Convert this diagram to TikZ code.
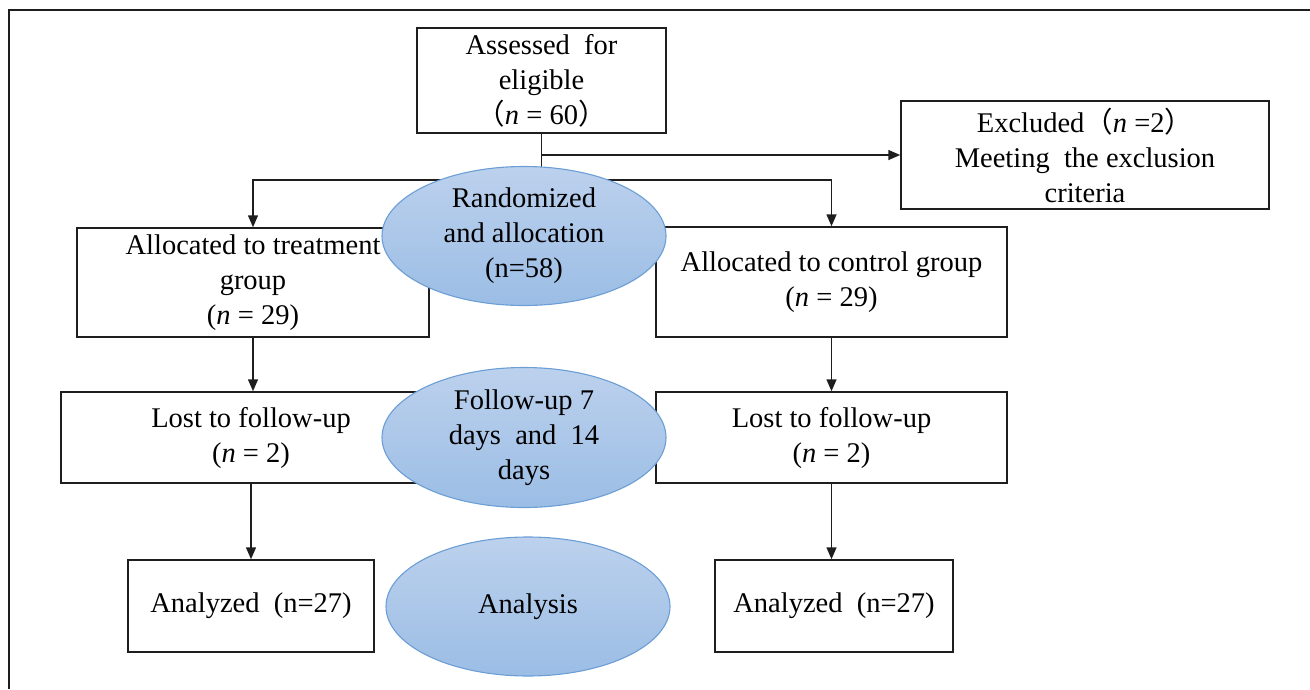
\documentclass[tikz,border=0pt]{standalone}
\usepackage{fontspec}
\setmainfont{Liberation Serif}
\newfontfamily\cjk{Noto Sans CJK SC}
\usetikzlibrary{shapes.geometric,arrows.meta}
\definecolor{ellfillA}{RGB}{188,209,237}
\definecolor{ellfillB}{RGB}{155,189,229}
\definecolor{elldraw}{RGB}{108,158,214}
\definecolor{framecol}{RGB}{30,30,30}
\begin{document}
\begin{tikzpicture}[x=1pt,y=-1pt,
  txt/.style={font=\fontsize{28.5}{35}\selectfont, align=center, inner sep=0pt},
  box/.style={txt, draw=framecol, line width=1.5pt, fill=white},
  ell/.style={ellipse, draw=elldraw, line width=1.1pt, top color=ellfillA, bottom color=ellfillB, inner sep=0pt},
  conn/.style={line width=1.5pt, draw=framecol},
  arr/.style={conn, -{Triangle[length=12pt,width=10pt]}}]
\useasboundingbox (0,0) rectangle (1310,689);
% frame (top and left edges)
\coordinate (fbl) at (9,689);
\coordinate (ftl) at (9,10);
\coordinate (ftr) at (1310,10);
\draw[line width=1.6pt, framecol] (fbl) -- (ftl) -- (ftr);
% boxes
\node[box, minimum width=249pt, minimum height=105pt] (A) at (541.5,80.5)
  {Assessed\ \ for\\eligible\\{\cjk （}\textit{n} = 60{\cjk ）}};
\node[box, minimum width=368pt, minimum height=108pt] (E) at (1085,155)
  {Excluded{\cjk （}\textit{n} =2{\cjk ）}\\Meeting\ \ the exclusion\\criteria};
\node[box, minimum width=352pt, minimum height=109pt] (T) at (253,282.5)
  {Allocated to treatment\\group\\(\textit{n} = 29)};
\node[box, minimum width=351pt, minimum height=110pt] (C) at (831.5,282)
  {Allocated to control group\\(\textit{n} = 29)};
\node[box, minimum width=380pt, minimum height=91pt] (LT) at (251,437.5)
  {Lost to follow-up\\(\textit{n} = 2)};
\node[box, minimum width=351pt, minimum height=91pt] (LC) at (831.5,437.5)
  {Lost to follow-up\\(\textit{n} = 2)};
\node[box, minimum width=246pt, minimum height=92pt] (AT) at (251,606)
  {Analyzed\ \ (n=27)};
\node[box, minimum width=238pt, minimum height=92pt] (AC) at (834,606)
  {Analyzed\ \ (n=27)};
% connectors
\coordinate (split) at (541.5,180);
\coordinate (exc) at (541.5,155);
\draw[conn] (A.south) -- (split);
\draw[arr] (exc) -- (E.west);
\draw[arr] (split) -| (T.north);
\draw[arr] (split) -| (C.north);
\draw[arr] (T.south) -- (T.south |- LT.north);
\draw[arr] (C.south) -- (C.south |- LC.north);
\draw[arr] (LT.south) -- (LT.south |- AT.north);
\draw[arr] (LC.south) -- (LC.south |- AC.north);
% ellipses
\node[ell, minimum width=284pt, minimum height=139pt] (R) at (524,236) {};
\node[txt] (Rt) at (R.center) {Randomized\\and allocation\\(n=58)};
\node[ell, minimum width=284pt, minimum height=140pt] (F) at (524,437.5) {};
\node[txt] (Ft) at (F.center) {Follow-up 7\\days\ \ and\ \ 14\\days};
\node[ell, minimum width=284pt, minimum height=139pt] (N) at (528,606.5) {};
\node[txt] (Nt) at (N.center) {Analysis};
\end{tikzpicture}
\end{document}
